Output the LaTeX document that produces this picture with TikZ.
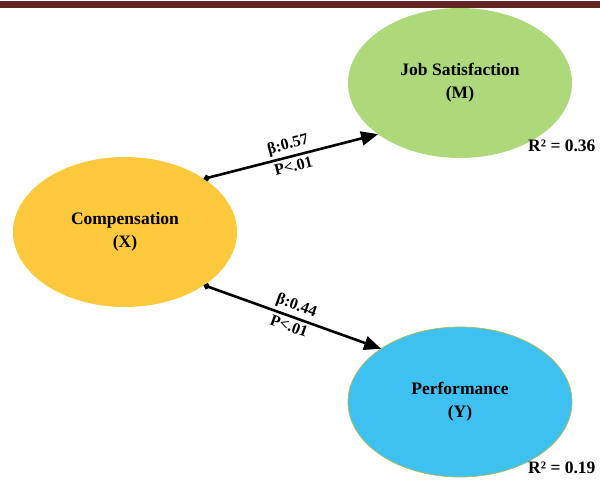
\documentclass[tikz,border=0pt]{standalone}
\usepackage{fontspec}
\setmainfont{Liberation Serif}
\usetikzlibrary{shapes.geometric, arrows.meta}

\definecolor{barred}{RGB}{99,37,35}
\definecolor{compyellow}{RGB}{252,201,60}
\definecolor{jobgreen}{RGB}{173,217,122}
\definecolor{perfblue}{RGB}{62,193,240}
\definecolor{perfedge}{RGB}{165,190,95}

\begin{document}
\begin{tikzpicture}[
		x=1pt, y=-1pt,
		every node/.style={font=\bfseries\fontsize{17.5}{23}\selectfont, align=center},
		latent/.style={ellipse, minimum width=224pt, minimum height=150pt, inner sep=0pt, outer sep=0pt},
		effect/.style={line width=2.6pt, {Circle[length=6pt]}-{Triangle[length=17pt, width=14pt]}},
		coef/.style={sloped, font=\bfseries\fontsize{16}{18}\selectfont, inner sep=3pt}
	]
  \useasboundingbox (0,0) rectangle (600,487);

  \node (x) [latent, fill=compyellow] at (125,232) {Compensation\\(X)};
  \node (m) [latent, fill=jobgreen] at (460,83) {Job Satisfaction\\(M)};
  \node (y) [latent, fill=perfblue, draw=perfedge, line width=0.8pt] at (460,402) {Performance\\(Y)};
  \node (r2m) [anchor=east] at (599,146) {R² = 0.36};
  \node (r2y) [anchor=east] at (599,468) {R² = 0.19};

  \fill [barred] (0,1) rectangle (600,8);

  \draw [effect] (x.34) -- (m.212)
    node [coef, midway, above] {β:0.57}
    node [coef, midway, below] {P<.01};
  \draw [effect] (x.326) -- (y.146)
    node [coef, midway, above] {β:0.44}
    node [coef, midway, below] {P<.01};
\end{tikzpicture}
\end{document}
